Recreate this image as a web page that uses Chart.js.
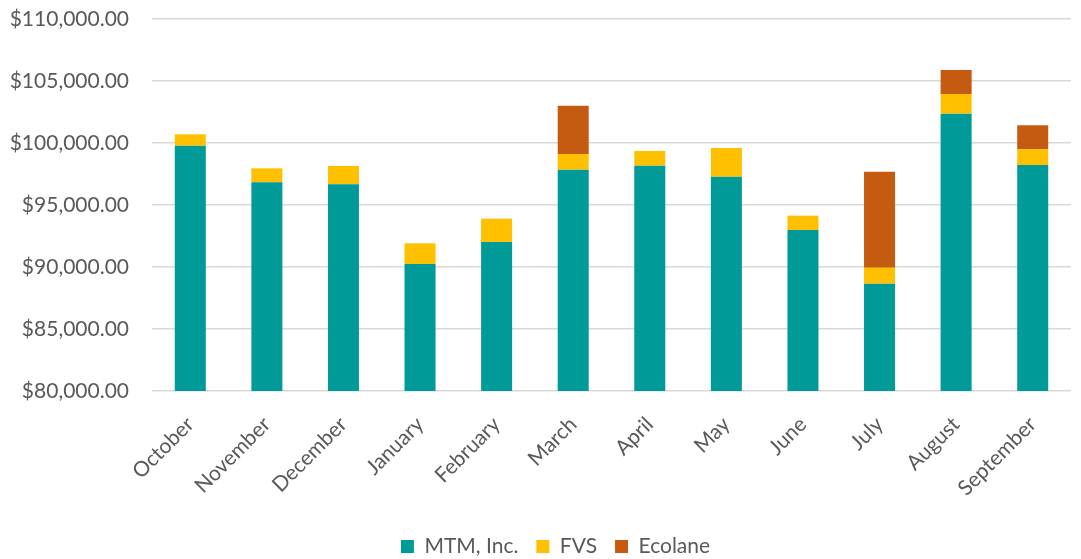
<!DOCTYPE html>
<html>
<head>
<meta charset="utf-8">
<script src="https://cdn.jsdelivr.net/npm/chart.js@4.4.1/dist/chart.umd.min.js"></script>
<style>
  html, body { margin: 0; padding: 0; background: #ffffff; }
  #wrap { width: 1081px; height: 559px; position: relative; }
</style>
</head>
<body>
<div id="wrap"><canvas id="c" width="1081" height="559"></canvas></div>
<script>
const months = ["October", "November", "December", "January", "February", "March", "April", "May", "June", "July", "August", "September"];
const mtm = [99780, 96830, 96670, 90240, 92020, 97850, 98170, 97280, 92985, 88655, 102365, 98225];
const fvs = [920, 1130, 1475, 1670, 1880, 1260, 1185, 2320, 1155, 1290, 1585, 1265];
const ecolane = [null, null, null, null, null, 3900, null, null, null, 7745, 1940, 1940];
const seriesNames = ["MTM, Inc.", "FVS", "Ecolane"];
const seriesColors = ["#009A99", "#FFC000", "#C55A11"];
const yMin = 80000, yMax = 110000, yStep = 5000;

const FONT = "Lato";
const TEXT = "#595959";

const legendShift = {
  id: "legendShift",
  afterLayout(chart) {
    const lg = chart.legend;
    if (lg) { lg.left += 20; lg.right += 20; }
  }
};

new Chart(document.getElementById("c"), {
  type: "bar",
  data: {
    labels: months,
    datasets: [
      { label: seriesNames[0], data: mtm, backgroundColor: seriesColors[0] },
      { label: seriesNames[1], data: fvs, backgroundColor: seriesColors[1] },
      { label: seriesNames[2], data: ecolane, backgroundColor: seriesColors[2] }
    ]
  },
  plugins: [legendShift],
  options: {
    responsive: false,
    animation: false,
    maintainAspectRatio: false,
    layout: { padding: { top: 19, right: 10, bottom: -8, left: 0 } },
    datasets: { bar: { categoryPercentage: 1.0, barPercentage: 0.405, borderWidth: 0 } },
    scales: {
      x: {
        stacked: true,
        grid: { display: false, drawTicks: false },
        border: { display: false },
        ticks: {
          color: TEXT,
          font: { family: FONT, size: 21 },
          maxRotation: 45, minRotation: 45,
          padding: 21,
          autoSkip: false
        },
        afterFit: (s) => { s.height = 127; }
      },
      y: {
        stacked: true,
        min: yMin, max: yMax,
        grid: { color: "#d9d9d9", lineWidth: 1.5, drawTicks: true, tickLength: 23, tickColor: "rgba(0,0,0,0)" },
        border: { display: false },
        ticks: {
          stepSize: yStep,
          color: TEXT,
          font: { family: FONT, size: 21 },
          padding: 0,
          callback: (v) => "$" + Number(v).toLocaleString("en-US", { minimumFractionDigits: 2, maximumFractionDigits: 2 })
        },
        afterFit: (s) => { s.width = 152; }
      }
    },
    plugins: {
      legend: {
        position: "bottom",
        labels: {
          color: TEXT,
          font: { family: FONT, size: 21 },
          boxWidth: 13, boxHeight: 13,
          padding: 18
        }
      },
      tooltip: { enabled: false }
    }
  }
});
</script>
</body>
</html>
